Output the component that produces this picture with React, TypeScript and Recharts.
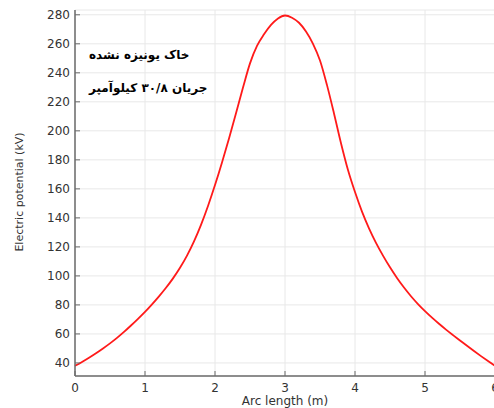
import { CartesianGrid, Line, LineChart, XAxis, YAxis } from "recharts"

// arc length (m) vs electric potential (kV), every 0.1 m
const arcLength = [
  0, 0.1, 0.2, 0.3, 0.4, 0.5, 0.6, 0.7, 0.8, 0.9, 1.0, 1.1, 1.2, 1.3, 1.4, 1.5, 1.6, 1.7, 1.8, 1.9, 2.0,
  2.1, 2.2, 2.3, 2.4, 2.5, 2.6, 2.7, 2.8, 2.9, 3.0, 3.1, 3.2, 3.3, 3.4, 3.5, 3.6, 3.7, 3.8, 3.9, 4.0,
  4.1, 4.2, 4.3, 4.4, 4.5, 4.6, 4.7, 4.8, 4.9, 5.0, 5.1, 5.2, 5.3, 5.4, 5.5, 5.6, 5.7, 5.8, 5.9, 6.0,
]
const potential = [
  38, 40.7, 43.6, 46.7, 50, 53.5, 57.3, 61.4, 65.8, 70.4, 75.2, 80.4, 85.9, 91.8, 98.3, 105.6, 114, 123.8, 135.2, 148.2, 162.6,
  178.2, 194.8, 212.1, 229.8, 246.5, 258.5, 266.5, 273, 277.5, 279.5, 278, 274.5, 268.5, 260, 248.5, 231.5, 212, 191.5, 173, 157.8,
  144.3, 132.8, 122.8, 114, 105.9, 98.6, 92, 86, 80.6, 75.7, 71.2, 67, 63, 59.2, 55.5, 51.8, 48.2, 44.7, 41.3, 38,
]

const xTicks = [0, 1, 2, 3, 4, 5, 6]
const yTicks = [40, 60, 80, 100, 120, 140, 160, 180, 200, 220, 240, 260, 280]

const note1 = "خاک یونیزه نشده"
const note2 = "جریان ۳۰/۸ کیلوآمپر"

const data = arcLength.map((x, i) => ({ x, v: potential[i] }))

const frame = "#6b6b6b"
const font = "DejaVu Sans"

export default function App() {
  return (
    <div style={{ position: "absolute", left: 0, top: 0, width: 494, height: 408, overflow: "hidden", background: "#fff" }}>
      <LineChart width={500} height={408} data={data} margin={{ top: 10, right: 5, bottom: 0, left: 0 }}>
        <CartesianGrid stroke="#e8e8e8" strokeWidth={1} />
        <XAxis
          dataKey="x"
          type="number"
          domain={[0, 6]}
          ticks={xTicks}
          height={32}
          tickSize={-5}
          tickMargin={12}
          stroke={frame}
          tick={{ fill: "#333", fontSize: 12, fontFamily: font }}
          axisLine={{ stroke: frame, strokeWidth: 1.5 }}
        />
        <XAxis
          xAxisId="top"
          orientation="top"
          dataKey="x"
          type="number"
          domain={[0, 6]}
          ticks={xTicks}
          height={0}
          tickSize={-5}
          tick={false}
          stroke={frame}
          axisLine={{ stroke: frame, strokeWidth: 1.5 }}
        />
        <YAxis
          type="number"
          domain={[31, 283.3]}
          allowDataOverflow
          ticks={yTicks}
          width={75}
          tickSize={-5}
          tickMargin={10}
          stroke={frame}
          tick={{ fill: "#333", fontSize: 12, fontFamily: font }}
          axisLine={{ stroke: frame, strokeWidth: 1.5 }}
        />
        <YAxis
          yAxisId="right"
          orientation="right"
          type="number"
          domain={[31, 283.3]}
          allowDataOverflow
          ticks={yTicks}
          width={0}
          tickSize={-5}
          tick={false}
          stroke={frame}
          axisLine={{ stroke: frame, strokeWidth: 1.5 }}
        />
        <Line
          type="monotone"
          dataKey="v"
          stroke="#ff1a1a"
          strokeWidth={1.8}
          dot={false}
          activeDot={false}
          isAnimationActive={false}
        />
        <text x={285} y={405} textAnchor="middle" fontSize={12} fontFamily={font} fill="#333">
          Arc length (m)
        </text>
        <text
          x={19}
          y={192}
          textAnchor="middle"
          dominantBaseline="central"
          fontSize={11}
          fontFamily={font}
          fill="#333"
          transform="rotate(-90 19 192)"
        >
          Electric potential (kV)
        </text>
        <text x={89} y={59} fontSize={12} fontWeight="bold" fontFamily={font} fill="#000">
          {note1}
        </text>
        <text x={89} y={92} fontSize={12} fontWeight="bold" fontFamily={font} fill="#000">
          {note2}
        </text>
      </LineChart>
    </div>
  )
}
